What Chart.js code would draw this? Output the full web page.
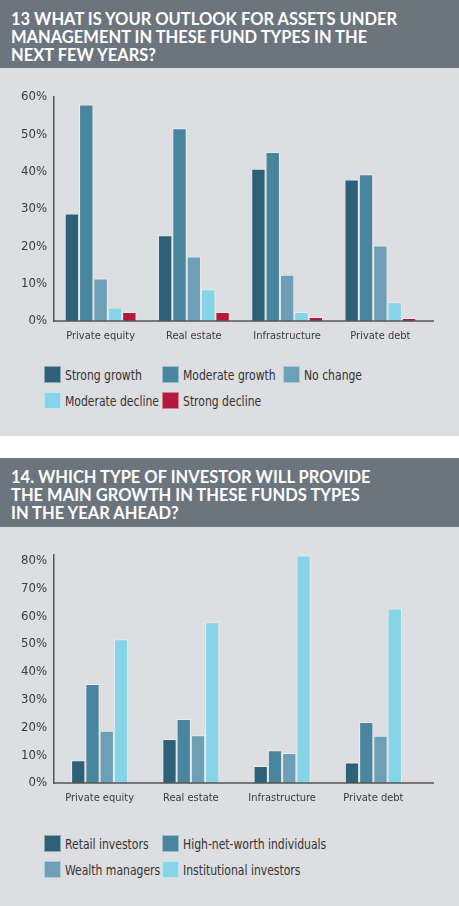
<!DOCTYPE html>
<html>
<head>
<meta charset="utf-8">
<script src="https://cdn.jsdelivr.net/npm/chart.js@4.4.0/dist/chart.umd.min.js"></script>
<style>
  body { margin: 0; background: #fff; }
  #page { position: relative; width: 459px; height: 906px; overflow: hidden; background: #fff; }
  .band { position: absolute; left: 0; width: 459px; background: #6c757d; color: #fff;
          font-family: Lato, sans-serif; font-weight: bold; font-size: 16.5px;
          line-height: 18px; box-sizing: border-box; padding-left: 11px; }
  .panel { position: absolute; left: 0; width: 459px; background: #dddee1; }
  .panel canvas { position: absolute; left: 0; top: 0; }
  .legend { position: absolute; left: 0; top: 0; width: 459px;
            font-family: "DejaVu Sans Condensed", Lato, sans-serif;
            font-size: 14px; color: #333; }
  .legend .item { position: absolute; height: 18px; line-height: 18px; white-space: nowrap; }
  .legend .box { position: absolute; left: 0; top: 0; width: 17px; height: 17px;
                 box-sizing: border-box; border: 1px solid rgba(255,255,255,0.45); }
  .legend .txt { position: absolute; left: 21px; top: 0; transform: scaleX(0.86); transform-origin: 0 50%; }
</style>
</head>
<body>
<div id="page">
  <div class="band" style="top:0;height:68px;padding-top:10px">13 WHAT IS YOUR OUTLOOK FOR ASSETS UNDER<br>MANAGEMENT IN THESE FUND TYPES IN THE<br>NEXT FEW YEARS?</div>
  <div class="panel" style="top:68px;height:368px">
    <canvas id="outlook" width="459" height="285"></canvas>
    <div class="legend" id="outlookLegend" style="top:298px"></div>
  </div>
  <div class="band" style="top:458px;height:69px;padding-top:10px">14. WHICH TYPE OF INVESTOR WILL PROVIDE<br>THE MAIN GROWTH IN THESE FUNDS TYPES<br>IN THE YEAR AHEAD?</div>
  <div class="panel" style="top:527px;height:379px">
    <canvas id="investor" width="459" height="288"></canvas>
    <div class="legend" id="investorLegend" style="top:308px"></div>
  </div>
</div>
<script>
// categories shared by both charts
const categories = ['Private equity', 'Real estate', 'Infrastructure', 'Private debt'];

// chart 13 - outlook for AUM (%)
const outlookLabels = ['Strong growth', 'Moderate growth', 'No change', 'Moderate decline', 'Strong decline'];
const strongGrowth = [28.8, 23.0, 40.8, 37.9];
const moderateGrowth = [58.0, 51.6, 45.3, 39.3];
const noChange = [11.4, 17.3, 12.4, 20.2];
const moderateDecline = [3.6, 8.5, 2.4, 5.0];
const strongDecline = [2.4, 2.4, 1.1, 0.8];
const outlookTicks = [0, 10, 20, 30, 40, 50, 60];

// chart 14 - investor types (%)
const investorLabels = ['Retail investors', 'High-net-worth individuals', 'Wealth managers', 'Institutional investors'];
const retailInvestors = [8.2, 15.8, 6.1, 7.4];
const hnwIndividuals = [35.6, 23.0, 11.8, 21.9];
const wealthManagers = [18.8, 17.2, 10.8, 17.0];
const institutionalInvestors = [51.7, 57.8, 81.8, 62.8];
const investorTicks = [0, 10, 20, 30, 40, 50, 60, 70, 80];

const colors = {
  dark: '#2e6178',
  mid: '#4a859e',
  light: '#6d9fb6',
  sky: '#85d4e8',
  red: '#b3193a'
};

const labelFont = '"DejaVu Sans Condensed", Lato, sans-serif';

// x axis line runs past the last category in the original
const axisLine = {
  id: 'axisLine',
  afterDatasetsDraw(chart, args, opts) {
    const { ctx, chartArea } = chart;
    ctx.save();
    ctx.strokeStyle = '#555';
    ctx.lineWidth = 1.5;
    ctx.beginPath();
    ctx.moveTo(chartArea.left, chartArea.bottom);
    ctx.lineTo(opts.right, chartArea.bottom);
    ctx.stroke();
    ctx.restore();
  }
};

function buildChart(id, datasets, tickValues, max, catPct, layoutPad) {
  const ctx = document.getElementById(id).getContext('2d');
  return new Chart(ctx, {
    type: 'bar',
    plugins: [axisLine],
    data: {
      labels: categories,
      datasets: datasets.map(d => ({
        label: d.label,
        data: d.data,
        backgroundColor: d.color,
        borderColor: 'rgba(255,255,255,0.45)',
        borderWidth: 1,
        borderSkipped: 'bottom',
        barPercentage: 1,
        categoryPercentage: catPct
      }))
    },
    options: {
      responsive: false,
      animation: false,
      events: [],
      layout: { padding: layoutPad },
      plugins: {
        legend: { display: false },
        tooltip: { enabled: false },
        axisLine: { right: 434 }
      },
      scales: {
        x: {
          grid: { display: false, drawTicks: false },
          border: { display: false },
          ticks: { color: '#3a3a3a', font: { family: labelFont, size: 11 }, padding: 9 },
          afterFit: scale => { scale.height = 32; }
        },
        y: {
          min: 0,
          max: max,
          grid: { display: false, drawTicks: false },
          border: { display: true, color: '#555', width: 1.5 },
          afterBuildTicks: scale => {
            scale.ticks = tickValues.map(v => ({ value: v }));
          },
          ticks: {
            color: '#3a3a3a',
            font: { family: labelFont, size: 13 },
            padding: 7,
            callback: v => v + '%'
          },
          afterFit: scale => { scale.width = 54; }
        }
      }
    }
  });
}

function buildLegend(id, labels, swatches, cols) {
  const el = document.getElementById(id);
  labels.forEach((lab, i) => {
    const row = Math.floor(i / cols.length);
    const col = i % cols.length;
    const item = document.createElement('div');
    item.className = 'item';
    item.style.left = cols[col] + 'px';
    item.style.top = (row * 26) + 'px';
    item.innerHTML = '<span class="box" style="background:' + swatches[i] + '"></span><span class="txt">' + lab + '</span>';
    el.appendChild(item);
  });
}

const outlookColors = [colors.dark, colors.mid, colors.light, colors.sky, colors.red];
const outlookSeries = [strongGrowth, moderateGrowth, noChange, moderateDecline, strongDecline];
buildChart('outlook',
  outlookSeries.map((s, i) => ({ label: outlookLabels[i], data: s, color: outlookColors[i] })),
  outlookTicks, 60, 0.77, { top: 29, right: 32, left: 0, bottom: 0 });
buildLegend('outlookLegend', outlookLabels, outlookColors, [44, 162, 283]);

const investorColors = [colors.dark, colors.mid, colors.light, colors.sky];
const investorSeries = [retailInvestors, hnwIndividuals, wealthManagers, institutionalInvestors];
buildChart('investor',
  investorSeries.map((s, i) => ({ label: investorLabels[i], data: s, color: investorColors[i] })),
  investorTicks, 82, 0.625, { top: 28, right: 40, left: 0, bottom: 0 });
buildLegend('investorLegend', investorLabels, investorColors, [44, 162]);
</script>
</body>
</html>
